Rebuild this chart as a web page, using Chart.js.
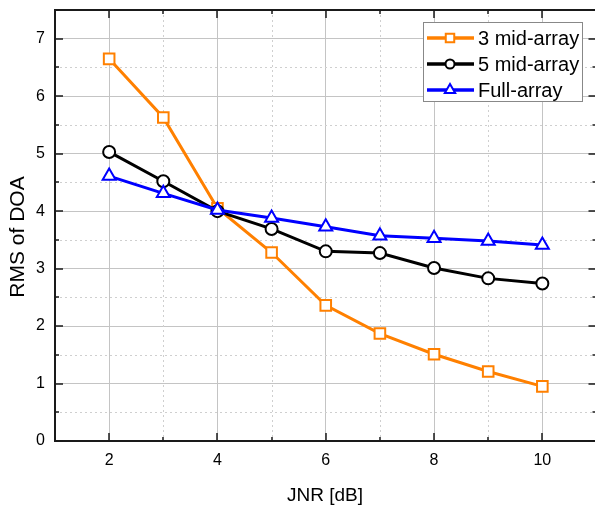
<!DOCTYPE html>
<html>
<head>
<meta charset="utf-8">
<script src="https://cdn.jsdelivr.net/npm/chart.js@4"></script>
<style>
html, body { margin: 0; padding: 0; background: #fff; overflow: hidden; width: 595px; height: 507px; }
</style>
</head>
<body>
<canvas id="rmsChart" width="606" height="507"></canvas>
<script>
// JNR values on the x axis
const jnr = [2, 3, 4, 5, 6, 7, 8, 9, 10];

// RMS of DOA for each configuration
const mid3 = [6.65, 5.63, 4.05, 3.28, 2.36, 1.87, 1.51, 1.21, 0.95];
const mid5 = [5.03, 4.52, 4.00, 3.69, 3.30, 3.27, 3.01, 2.83, 2.74];
const full = [4.61, 4.31, 4.02, 3.88, 3.73, 3.57, 3.53, 3.48, 3.41];

const seriesNames = ['3 mid-array', '5 mid-array', 'Full-array'];
const xTickLabels = [2, 4, 6, 8, 10];
const yTickLabels = [0, 1, 2, 3, 4, 5, 6, 7];
const xTitle = 'JNR [dB]';
const yTitle = 'RMS of DOA';

const FONT = 'Arial, "Liberation Sans", sans-serif';

function toPoints(values) {
    return jnr.map((x, i) => ({ x: x, y: values[i] }));
}

function drawMarker(ctx, style, x, y, r, color) {
    ctx.save();
    ctx.lineWidth = 2;
    ctx.strokeStyle = color;
    ctx.fillStyle = '#fff';
    ctx.beginPath();
    if (style === 'rect') {
        const s = r * Math.SQRT1_2;
        ctx.rect(x - s, y - s, 2 * s, 2 * s);
    } else if (style === 'circle') {
        ctx.arc(x, y, r, 0, Math.PI * 2);
    } else {
        ctx.moveTo(x, y - r);
        ctx.lineTo(x + r * 0.866, y + r * 0.5);
        ctx.lineTo(x - r * 0.866, y + r * 0.5);
        ctx.closePath();
    }
    ctx.fill();
    ctx.stroke();
    ctx.restore();
}

// dotted minor grid lines, frame, inward ticks, axis titles and the boxed legend
const framePlugin = {
    id: 'frame',
    beforeDatasetsDraw(chart) {
        const ctx = chart.ctx;
        const a = chart.chartArea;
        const xs = chart.scales.x, ys = chart.scales.y;
        ctx.save();
        ctx.strokeStyle = '#cfcfcf';
        ctx.lineWidth = 1;
        ctx.setLineDash([2, 3]);
        for (let v = 1; v <= 11; v += 2) {
            const px = Math.round(xs.getPixelForValue(v)) + 0.5;
            ctx.beginPath(); ctx.moveTo(px, a.top); ctx.lineTo(px, a.bottom); ctx.stroke();
        }
        for (let v = 0.5; v < 7.5; v += 1) {
            const py = Math.round(ys.getPixelForValue(v)) + 0.5;
            ctx.beginPath(); ctx.moveTo(a.left, py); ctx.lineTo(a.right, py); ctx.stroke();
        }
        ctx.restore();
    },
    afterDraw(chart) {
        const ctx = chart.ctx;
        const a = chart.chartArea;
        const xs = chart.scales.x, ys = chart.scales.y;
        ctx.save();
        ctx.strokeStyle = '#1a1a1a';
        ctx.lineWidth = 2;
        ctx.strokeRect(a.left, a.top, a.right - a.left, a.bottom - a.top);

        ctx.lineWidth = 1.5;
        for (let v = 1; v <= 11; v += 1) {
            const len = v % 2 === 0 ? 8 : 4;
            const px = Math.round(xs.getPixelForValue(v));
            ctx.beginPath();
            ctx.moveTo(px, a.bottom); ctx.lineTo(px, a.bottom - len);
            ctx.moveTo(px, a.top); ctx.lineTo(px, a.top + len);
            ctx.stroke();
        }
        for (let v = 0; v <= 7.5; v += 0.5) {
            const len = v % 1 === 0 ? 8 : 4;
            const py = Math.round(ys.getPixelForValue(v));
            ctx.beginPath();
            ctx.moveTo(a.left, py); ctx.lineTo(a.left + len, py);
            ctx.moveTo(a.right, py); ctx.lineTo(a.right - len, py);
            ctx.stroke();
        }

        // axis titles
        ctx.fillStyle = '#000';
        ctx.textBaseline = 'alphabetic';
        ctx.textAlign = 'center';
        ctx.font = '19px ' + FONT;
        ctx.fillText(xTitle, 325, 501);
        ctx.save();
        ctx.translate(24, 237);
        ctx.rotate(-Math.PI / 2);
        ctx.font = '21px ' + FONT;
        ctx.fillText(yTitle, 0, 0);
        ctx.restore();

        // legend
        const bx = 423, by = 22, bw = 159, bh = 79;
        ctx.fillStyle = '#fff';
        ctx.fillRect(bx, by, bw, bh);
        ctx.strokeStyle = '#888888';
        ctx.lineWidth = 1;
        ctx.strokeRect(bx + 0.5, by + 0.5, bw, bh);
        chart.data.datasets.forEach((ds, i) => {
            const y = 38 + i * 26;
            ctx.strokeStyle = ds.borderColor;
            ctx.lineWidth = 3.5;
            ctx.beginPath(); ctx.moveTo(427, y); ctx.lineTo(474, y); ctx.stroke();
            const r = ds.pointStyle === 'circle' ? 4.5 : 6;
            drawMarker(ctx, ds.pointStyle, 450, y, r, ds.borderColor);
            ctx.fillStyle = '#000';
            ctx.font = '20px ' + FONT;
            ctx.textBaseline = 'middle';
            ctx.textAlign = 'left';
            ctx.fillText(ds.label, 478, y + 1);
        });
        ctx.restore();
    }
};

const ctx = document.getElementById('rmsChart').getContext('2d');

new Chart(ctx, {
    type: 'line',
    data: {
        datasets: [{
            label: seriesNames[0],
            data: toPoints(mid3),
            borderColor: '#ff8000',
            borderWidth: 3,
            pointStyle: 'rect',
            pointRadius: 7.5,
            pointBorderWidth: 2,
            pointBackgroundColor: '#fff',
            pointBorderColor: '#ff8000',
            order: 2
        }, {
            label: seriesNames[1],
            data: toPoints(mid5),
            borderColor: '#000000',
            borderWidth: 3,
            pointStyle: 'circle',
            pointRadius: 6,
            pointBorderWidth: 2,
            pointBackgroundColor: '#fff',
            pointBorderColor: '#000000',
            order: 1
        }, {
            label: seriesNames[2],
            data: toPoints(full),
            borderColor: '#0000ff',
            borderWidth: 3,
            pointStyle: 'triangle',
            pointRadius: 7.5,
            pointBorderWidth: 2,
            pointBackgroundColor: '#fff',
            pointBorderColor: '#0000ff',
            order: 0
        }]
    },
    options: {
        responsive: false,
        animation: false,
        layout: { padding: { top: 10, right: 0, left: 0, bottom: 0 } },
        plugins: {
            legend: { display: false },
            tooltip: { enabled: false }
        },
        scales: {
            x: {
                type: 'linear',
                min: 1,
                max: 11,
                afterFit: function (scale) {
                    scale.height = 66;
                    scale.paddingLeft = 0;
                    scale.paddingRight = 0;
                },
                ticks: {
                    stepSize: 1,
                    autoSkip: false,
                    maxRotation: 0,
                    padding: 10,
                    color: '#000',
                    font: { family: FONT, size: 16 },
                    callback: function (value) {
                        return xTickLabels.includes(value) ? String(value) : '';
                    }
                },
                grid: {
                    drawTicks: false,
                    lineWidth: 1,
                    color: function (c) {
                        return c.tick && xTickLabels.includes(c.tick.value) ? '#c4c4c4' : 'rgba(0,0,0,0)';
                    }
                },
                border: { display: false }
            },
            y: {
                min: 0,
                max: 7.5,
                afterFit: function (scale) {
                    scale.width = 55;
                    scale.paddingTop = 0;
                    scale.paddingBottom = 0;
                },
                ticks: {
                    stepSize: 0.5,
                    autoSkip: false,
                    padding: 10,
                    color: '#000',
                    font: { family: FONT, size: 16 },
                    callback: function (value) {
                        return yTickLabels.includes(value) ? String(value) : '';
                    }
                },
                grid: {
                    drawTicks: false,
                    lineWidth: 1,
                    color: function (c) {
                        return c.tick && yTickLabels.includes(c.tick.value) && c.tick.value > 0 ? '#c4c4c4' : 'rgba(0,0,0,0)';
                    }
                },
                border: { display: false }
            }
        }
    },
    plugins: [framePlugin]
});
</script>
</body>
</html>
